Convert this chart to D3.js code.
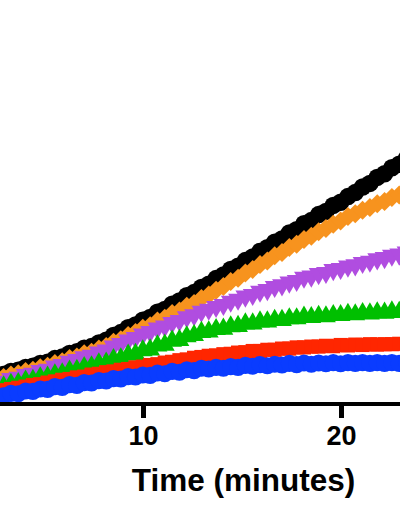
<!DOCTYPE html>
<html>
<head>
<meta charset="utf-8">
<script src="https://cdn.jsdelivr.net/npm/d3@7"></script>
<style>
  html, body { margin: 0; padding: 0; background: #fff; }
  svg { display: block; }
</style>
</head>
<body>
<svg width="400" height="516"></svg>
<script>
// time points (minutes)
const times = [0,0.37,0.74,1.11,1.48,1.85,2.22,2.59,2.96,3.33,3.70,4.07,4.44,4.81,5.18,5.55,5.92,6.29,6.66,7.03,
  7.40,7.77,8.14,8.51,8.88,9.25,9.62,9.99,10.36,10.73,11.10,11.47,11.84,12.21,12.58,12.95,13.32,13.69,14.06,14.43,
  14.80,15.17,15.54,15.91,16.28,16.65,17.02,17.39,17.76,18.13,18.50,18.87,19.24,19.61,19.98,20.35,20.72,21.09,21.46,21.83,
  22.20,22.57,22.94,23.31];

const black = [0.036,0.042,0.045,0.051,0.054,0.060,0.063,0.069,0.071,0.079,
  0.082,0.089,0.092,0.099,0.102,0.111,0.115,0.124,0.128,0.137,
  0.141,0.150,0.157,0.169,0.176,0.188,0.195,0.207,0.214,0.227,
  0.234,0.247,0.255,0.268,0.276,0.289,0.297,0.311,0.320,0.334,
  0.342,0.356,0.365,0.379,0.388,0.402,0.410,0.425,0.433,0.448,
  0.456,0.471,0.479,0.494,0.502,0.516,0.526,0.540,0.549,0.564,
  0.573,0.588,0.597,0.612];

const orange = [0.029,0.034,0.037,0.043,0.046,0.052,0.055,0.061,0.064,0.070,
  0.073,0.079,0.082,0.088,0.092,0.099,0.103,0.111,0.115,0.123,
  0.127,0.135,0.141,0.152,0.158,0.169,0.176,0.187,0.193,0.205,
  0.212,0.224,0.230,0.242,0.249,0.261,0.270,0.282,0.291,0.304,
  0.312,0.325,0.334,0.346,0.355,0.368,0.376,0.389,0.397,0.409,
  0.417,0.428,0.436,0.447,0.455,0.466,0.473,0.482,0.489,0.498,
  0.504,0.514,0.520,0.529];

const purple = [0.019,0.024,0.027,0.033,0.036,0.042,0.044,0.051,0.054,0.061,
  0.064,0.071,0.074,0.081,0.084,0.092,0.096,0.104,0.108,0.115,
  0.119,0.127,0.132,0.142,0.148,0.157,0.163,0.172,0.178,0.187,
  0.192,0.201,0.206,0.215,0.220,0.229,0.234,0.241,0.246,0.254,
  0.259,0.267,0.271,0.279,0.283,0.291,0.295,0.302,0.306,0.314,
  0.317,0.323,0.326,0.333,0.336,0.342,0.345,0.351,0.354,0.360,
  0.363,0.369,0.372,0.377];

const green = [0.012,0.017,0.019,0.024,0.026,0.032,0.034,0.039,0.041,0.047,
  0.049,0.055,0.057,0.063,0.065,0.071,0.073,0.080,0.082,0.089,
  0.091,0.098,0.100,0.109,0.111,0.120,0.122,0.131,0.133,0.143,
  0.145,0.155,0.157,0.166,0.169,0.177,0.178,0.184,0.185,0.191,
  0.192,0.198,0.198,0.203,0.203,0.207,0.207,0.211,0.211,0.215,
  0.214,0.217,0.216,0.219,0.219,0.222,0.221,0.224,0.223,0.226,
  0.225,0.228,0.227,0.229];

const red = [0.008,0.011,0.015,0.017,0.021,0.023,0.026,0.028,0.032,0.035,
  0.038,0.041,0.045,0.047,0.051,0.054,0.058,0.060,0.064,0.066,
  0.071,0.073,0.077,0.079,0.083,0.085,0.089,0.091,0.095,0.097,
  0.101,0.103,0.107,0.109,0.113,0.115,0.118,0.119,0.122,0.123,
  0.126,0.127,0.130,0.130,0.133,0.133,0.136,0.136,0.139,0.139,
  0.141,0.141,0.143,0.142,0.145,0.144,0.146,0.145,0.147,0.146,
  0.147,0.147,0.148,0.147];

const blue = [0.000,0.002,0.003,0.008,0.008,0.013,0.013,0.018,0.018,0.024,
  0.023,0.030,0.029,0.035,0.034,0.041,0.039,0.046,0.044,0.051,
  0.050,0.056,0.055,0.061,0.060,0.066,0.065,0.070,0.069,0.075,
  0.073,0.079,0.077,0.083,0.081,0.087,0.085,0.089,0.087,0.091,
  0.089,0.094,0.092,0.096,0.093,0.097,0.095,0.099,0.096,0.100,
  0.097,0.100,0.098,0.101,0.098,0.101,0.099,0.101,0.099,0.101,
  0.099,0.101,0.099,0.101];

// only the ticks that fall inside the cropped view
const xTicks = [10, 20];
const xTitle = "Time (minutes)";

// drawing order: first one ends up underneath
const series = [
  { name: "black", values: black, color: "#000000", shape: d3.symbolCircle, size: 240, rot: 0 },
  { name: "orange", values: orange, color: "#F7931E", shape: d3.symbolSquare, size: 180, rot: 45 },
  { name: "purple", values: purple, color: "#B04DE0", shape: d3.symbolTriangle, size: 170, rot: 180 },
  { name: "green", values: green, color: "#00BF00", shape: d3.symbolTriangle, size: 170, rot: 0 },
  { name: "red", values: red, color: "#FF2600", shape: d3.symbolSquare, size: 200, rot: 0 },
  { name: "blue", values: blue, color: "#0A3CFF", shape: d3.symbolCircle, size: 230, rot: 0 }
];

const svg = d3.select("svg");

// the plot is cropped: 0 min sits left of the visible area
const x = d3.scaleLinear().domain([10, 20]).range([143, 341]);
const y = d3.scaleLinear().domain([0, 0.6]).range([403, 163]);
const axisY = 404;

const marks = svg.append("g").attr("class", "marks");

series.forEach(s => {
  const sym = d3.symbol().type(s.shape).size(s.size);
  marks.append("g")
    .attr("fill", s.color)
    .selectAll("path")
    .data(times.map((t, i) => ({ t, v: s.values[i] })))
    .enter()
    .append("path")
    .attr("d", sym)
    .attr("transform", d => `translate(${x(d.t)},${y(d.v)}) rotate(${s.rot})`);
});

// X axis
const xAxis = svg.append("g")
  .attr("transform", `translate(0,${axisY})`)
  .call(d3.axisBottom(x)
    .tickValues(xTicks)
    .tickFormat(d3.format("d"))
    .tickSize(14)
    .tickSizeOuter(0)
    .tickPadding(8));

// axis line runs across the whole cropped view
xAxis.select(".domain")
  .attr("d", "M-10,0H420")
  .attr("stroke", "#000")
  .attr("stroke-width", 4);

xAxis.selectAll(".tick line")
  .attr("stroke", "#000")
  .attr("stroke-width", 5);

xAxis.selectAll(".tick text")
  .attr("fill", "#000")
  .style("font-family", "Liberation Sans, Arial, sans-serif")
  .style("font-weight", "bold")
  .style("font-size", "27px");

// axis title
svg.append("text")
  .attr("x", 243.5)
  .attr("y", 491)
  .attr("text-anchor", "middle")
  .style("font-family", "Liberation Sans, Arial, sans-serif")
  .style("font-weight", "bold")
  .style("font-size", "31.5px")
  .text(xTitle);
</script>
</body>
</html>
